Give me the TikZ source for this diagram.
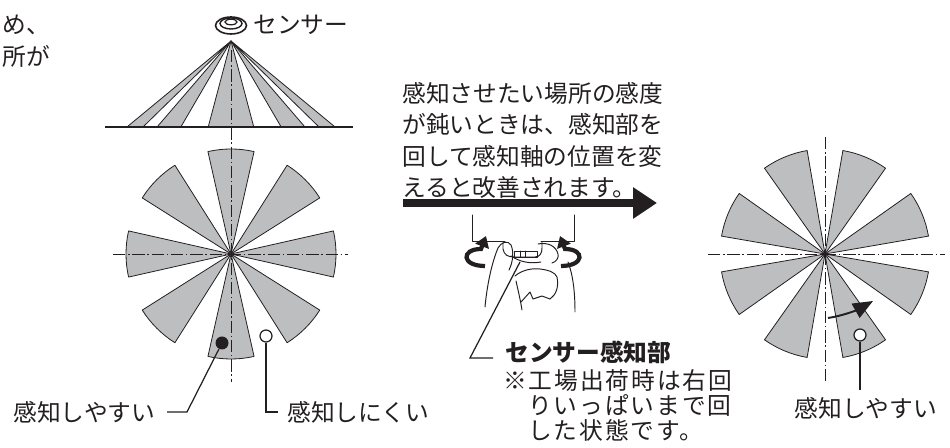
\documentclass[tikz,border=0pt]{standalone}
\usepackage{fontspec}
\setmainfont{Noto Sans CJK JP}
\newfontfamily\notefont{Noto Sans CJK JP}[LetterSpace=8]
\usetikzlibrary{arrows.meta, calc}
\definecolor{ink}{HTML}{231F20}
\definecolor{sectorgray}{HTML}{BCBEC0}

\begin{document}
\begin{tikzpicture}[
  x=0.02cm, y=-0.02cm,
  sector/.style={fill=sectorgray, draw=ink, line width=0.45pt, line join=round},
  axisline/.style={draw=ink, line width=0.5pt,
    dash pattern=on 7pt off 1.6pt on 0.8pt off 1.6pt},
  leader/.style={draw=ink, line width=0.7pt},
  caption/.style={font=\fontsize{13.5}{18}\selectfont, text=ink, inner sep=0pt},
  note/.style={caption, font=\fontsize{13.5}{18}\notefont},
  hand/.style={draw=ink, line width=0.55pt, line cap=round, line join=round},
  rotarrow/.style={draw=ink, line width=2.4pt, -{Triangle[length=0.22cm,width=0.28cm]}},
  bigarrow/.style={draw=ink, line width=0.16cm, -{Triangle[length=0.48cm,width=0.6cm]}},
  turnarrow/.style={draw=ink, line width=1.1pt, -{Triangle[length=0.4cm,width=0.32cm]}},
  dotfill/.style={circle, fill=ink, minimum size=0.26cm, inner sep=0pt},
  dotopen/.style={circle, draw=ink, fill=white, line width=0.7pt,
    minimum size=0.24cm, inner sep=0pt}
]
\useasboundingbox (0,0) rectangle (950,448);

% tail of the previous paragraph
\node[caption, anchor=west] (prevA) at (2,25) {め、};
\node[caption, anchor=west] (prevB) at (2,56) {所が};

% side view: sensor and its detection fan
\coordinate (apex) at (231,41);
\draw[ink, line width=0.9pt] (231,25.5) ellipse [x radius=15.5, y radius=8.5];
\draw[ink, line width=0.8pt] (231,23.5) ellipse [x radius=11, y radius=5.5];
\draw[ink, line width=0.7pt] (231,22) ellipse [x radius=6, y radius=2.8];
\node[caption, anchor=west] (sensorLbl) at (253,25) {センサー};
\foreach \l/\r in {127.3/143.3, 157.3/181, 208.3/253.7, 281/304.7, 318.7/334.7}
  \filldraw[sector] (apex) -- (\l,126.7) -- (\r,126.7) -- cycle;
\draw[ink, line width=1.2pt] (105,126.7) -- (353,126.7);

% plan view, factory setting
\coordinate (cL) at (231,254);
\foreach \a in {0,45,...,315}
  \filldraw[sector] (cL) -- ++(\a-12.7:105)
    arc[start angle=\a-12.7, end angle=\a+12.7, radius=105] -- cycle;
\draw[axisline] (231,50) -- (231,382);
\draw[axisline] (113,254) -- (348,254);
\node[dotfill] (dotL) at (222,343) {};
\node[dotopen] (ringL) at (266,336) {};

\node[caption, anchor=west] (easyL) at (13,412) {感知しやすい};
\node[caption, anchor=west] (hardL) at (287,412) {感知しにくい};
\coordinate (kinkL) at (187,412);
\coordinate (tailL) at (167,412);
\draw[leader] (dotL) -- (kinkL) -- (tailL);
\coordinate (kinkH) at (266,412);
\coordinate (tailH) at (278,412);
\draw[leader] (ringL) -- (kinkH) -- (tailH);

% advice text and arrow
\node[caption, align=left, anchor=west] (advice) at (402,140.5)
  {感知させたい場所の感度\\が鈍いときは、感知部を\\回して感知軸の位置を変\\えると改善されます。};
\coordinate (goS) at (403,203);
\coordinate (goE) at (657,203);
\draw[bigarrow] (goS) -- (goE);

% hand turning the sensor head
\draw[hand] (472.5,215) -- (472.5,241.5) -- (505,241.5);
\draw[hand] (541,241.5) -- (574.3,241.5) -- (574.3,215);
\draw[hand] (503,241.5) -- (503,249) .. controls (504,255) and (508,257) .. (514,257)
  -- (535,257) .. controls (540,257) and (542,253) .. (542,248) -- (542,241.5);
\draw[hand] (514,251) rectangle (537,257);
\draw[hand] (520,251) -- (520,257) (525,251) -- (525,257);
\draw[hand] (485,307) .. controls (487,285) and (492,262) .. (498,248)
  .. controls (501,242) and (508,240) .. (511,245)
  .. controls (514,252) and (513,262) .. (509,270);
\draw[hand] (538,244) .. controls (548,242) and (556,246) .. (558,254)
  .. controls (559,258) and (556,262) .. (552,263);
\draw[hand] (511,256) .. controls (520,262) and (530,264) .. (541,262);
\draw[hand] (515,276) .. controls (522,270) and (532,268) .. (540,269)
  .. controls (548,270) and (555,272) .. (557,277)
  .. controls (559,287) and (556,295) .. (550,299);
\draw[hand] (521,302) -- (530,292) -- (533,299) -- (542,296) -- (550,299);
\draw[hand] (516,281) .. controls (518,290) and (520,298) .. (522,310);
\draw[hand] (568,262) .. controls (573,275) and (575,292) .. (575,312);
\draw[rotarrow] (485,266) .. controls (461,266) and (461,249) .. (481,249) -- (486,236);
\draw[rotarrow] (561,266) .. controls (585,266) and (585,249) .. (565,249) -- (560,236);

% note on the sensor head
\coordinate (knob) at (520,262);
\coordinate (kinkN) at (470,358);
\coordinate (tailN) at (493,358);
\draw[leader] (knob) -- (kinkN) -- (tailN);
\node[caption, anchor=west, font=\fontsize{13.5}{18}\selectfont\bfseries]
  (partLbl) at (505,352) {センサー感知部};
\node[note, anchor=west] (noteA) at (503,381) {※工場出荷時は右回};
\node[note, anchor=west] (noteB) at (528,405) {りいっぱいまで回};
\node[note, anchor=west] (noteC) at (528,430) {した状態です。};

% plan view, after turning
\coordinate (cR) at (825,254);
\foreach \a in {22.5,67.5,...,337.5}
  \filldraw[sector] (cR) -- ++(\a-12.7:105)
    arc[start angle=\a-12.7, end angle=\a+12.7, radius=105] -- cycle;
\draw[axisline] (825,137) -- (825,382);
\draw[axisline] (708,254) -- (945,254);
\coordinate (turnS) at (828,318);
\coordinate (turnE) at (873,301);
\draw[turnarrow] (turnS) .. controls (842,316) and (857,310) .. (turnE);
\node[dotopen] (ringR) at (860,335) {};
\node[caption] (easyR) at (866,408) {感知しやすい};
\coordinate (footR) at (860,390);
\draw[leader] (ringR) -- (footR);

\end{tikzpicture}
\end{document}
